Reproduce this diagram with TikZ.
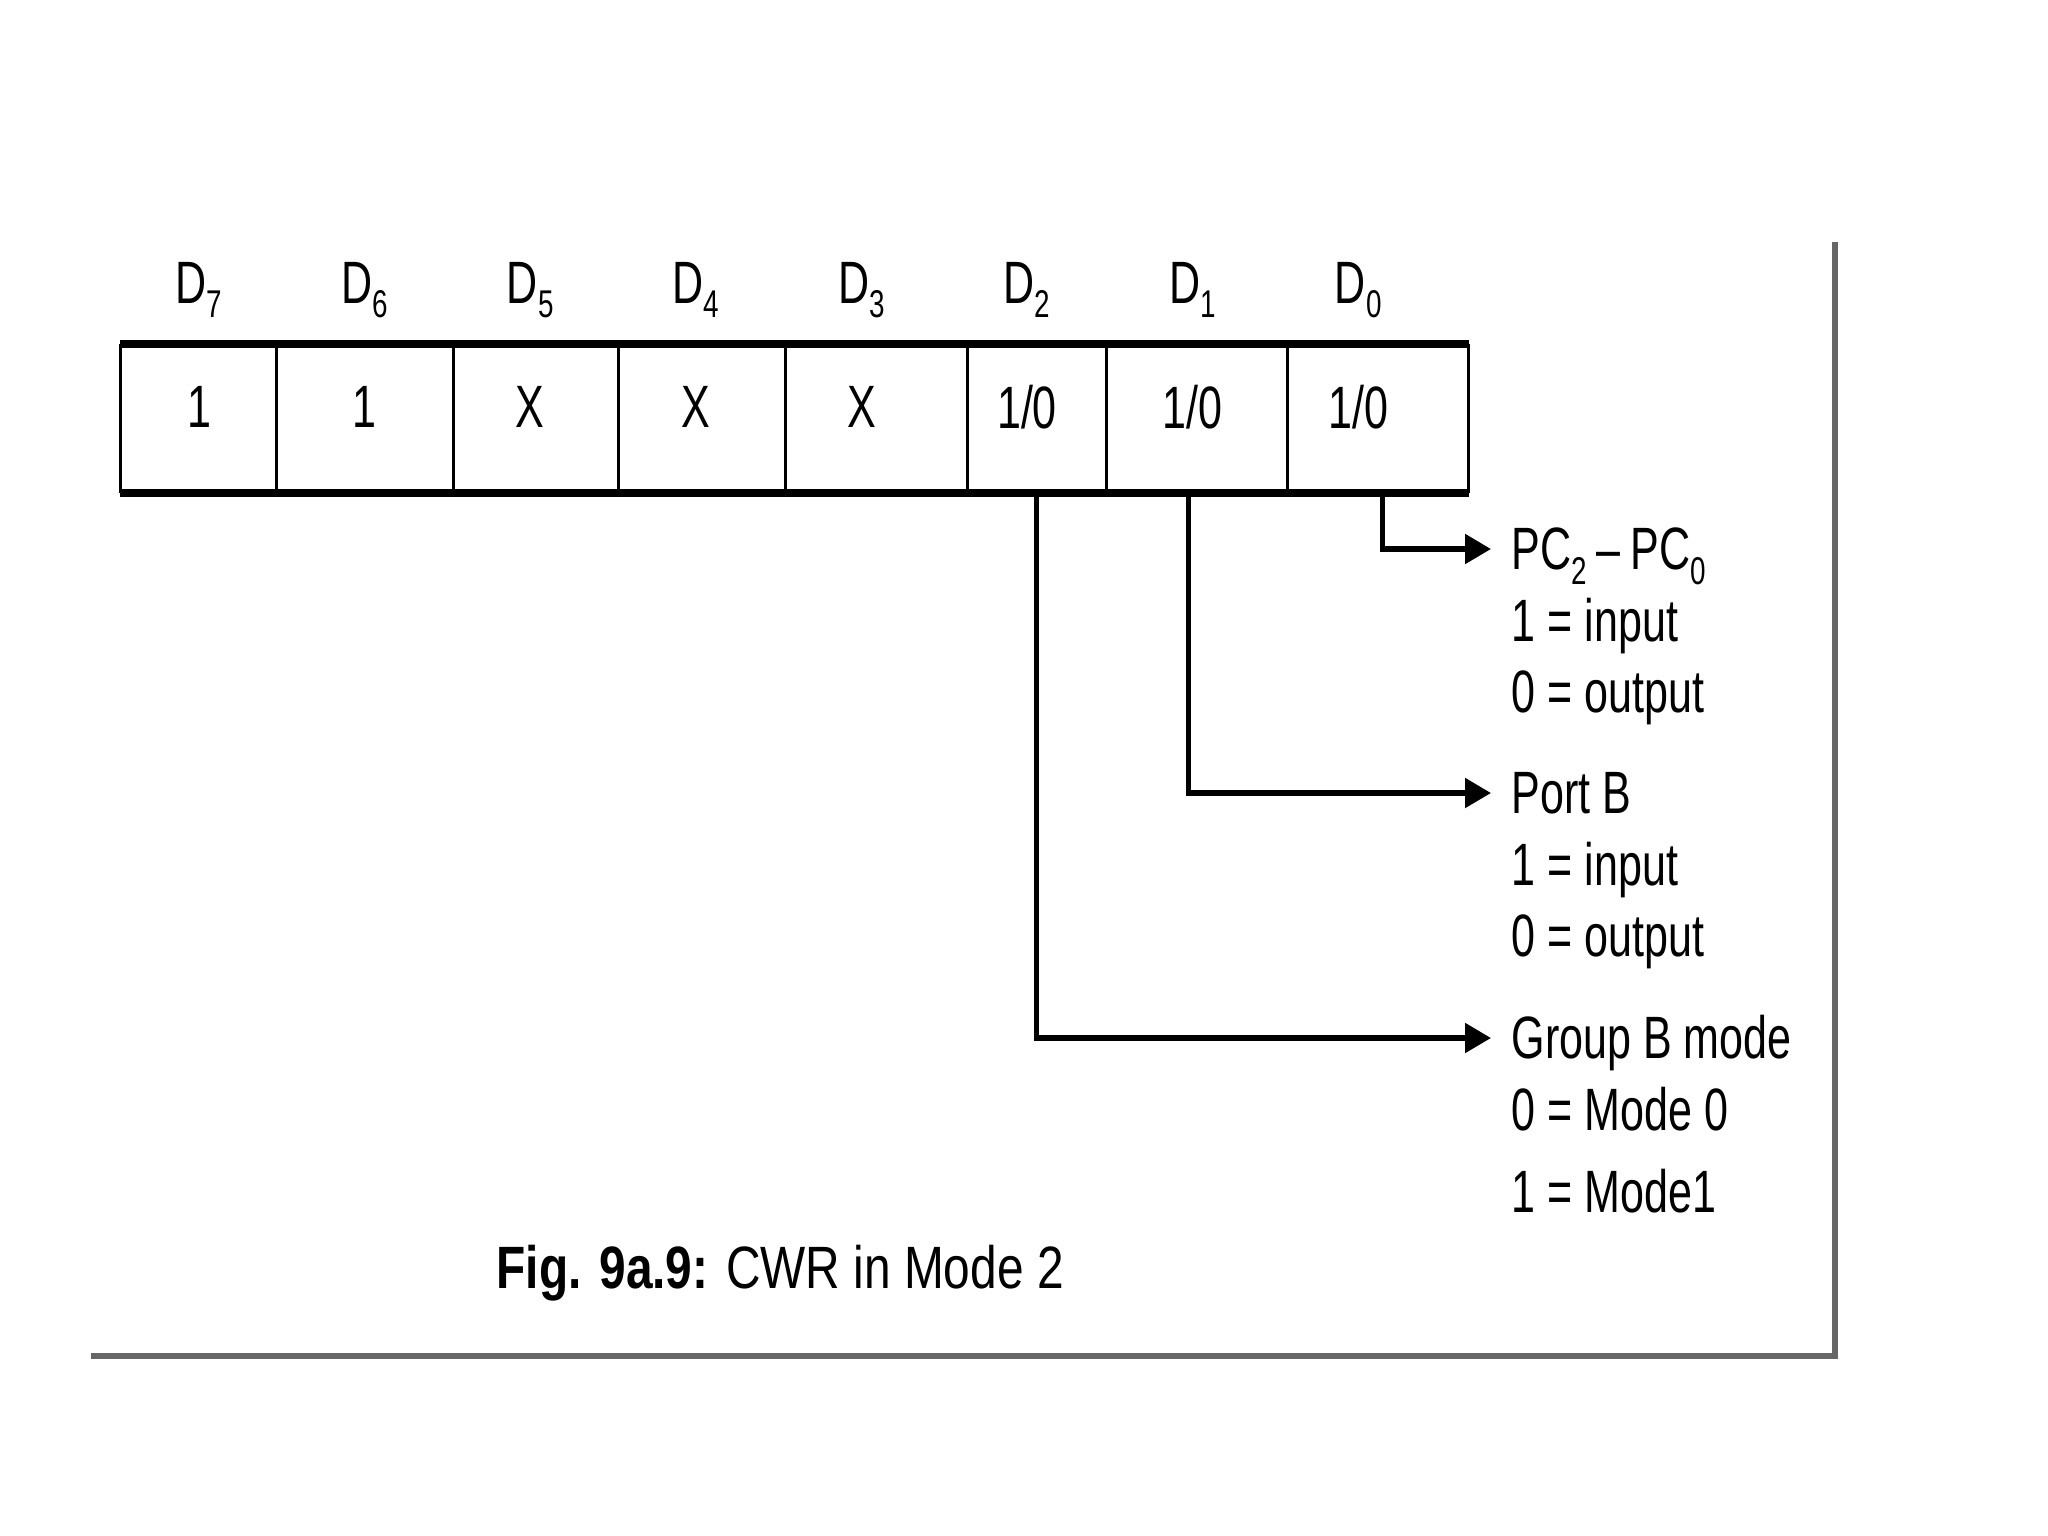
\documentclass[tikz,border=0pt]{standalone}
\usepackage{fontspec}
\setmainfont{Liberation Sans}[FakeStretch=0.72]
\newfontfamily\capfont{Liberation Sans}[FakeStretch=0.8]
\usetikzlibrary{arrows.meta,positioning}
\newcommand{\lowidx}[1]{\raisebox{-0.45ex}{\fontsize{11}{11}\selectfont #1}}
\tikzset{
  regline/.style={black, line width=2.4pt},
  divline/.style={black, line width=1pt},
  cellbox/.style={minimum height=14.7mm, inner sep=0pt},
  bitlab/.style={font=\fontsize{17}{20}\selectfont, inner sep=0pt},
  bitval/.style={font=\fontsize{17}{20}\selectfont, inner sep=0pt},
  feed/.style={-{Triangle[length=2.6mm,width=2.9mm]}, line width=1.5pt},
  target/.style={font=\fontsize{17}{20}\selectfont, anchor=west,
                 inner xsep=2mm, inner ysep=0pt,
                 text height=15.9pt, text depth=4pt},
  frame/.style={black!60, line width=1.8pt},
}

\begin{document}
\begin{tikzpicture}[x=0.01cm,y=-0.01cm]
  \path[use as bounding box] (0,0) rectangle (2048,1536);

  % register cells D7 ... D0
  \foreach \l/\r/\n in {121/276/7,276/453/6,453/618/5,618/785/4,785/967/3,967/1106/2,1106/1287/1,1287/1468/0}
    \node[cellbox, minimum width={(\r-\l)*0.01cm}] (c\n) at ({(\l+\r)/2},418.5) {};
  \draw[regline] (c7.north west) -- (c0.north east);
  \draw[regline] (c7.south west) -- (c0.south east);
  \draw[divline] (c7.north west) -- (c7.south west);
  \foreach \n in {7,...,0}
    \draw[divline] (c\n.north east) -- (c\n.south east);

  % bit names and contents
  \foreach \b/\v in {7/1,6/1,5/X,4/X,3/X,2/{1/0},1/{1/0},0/{1/0}} {
    \node[bitlab] (d\b) at ({199+(7-\b)*165.6},290) {D\lowidx{\b}};
    \node[bitval] (v\b) at ({199+(7-\b)*165.6},407) {\v};
  }

  % meaning of the low bits
  \node[target] (pc) at (1491,549) {PC\lowidx{2}\,–\,PC\lowidx{0}};
  \node[target, below=0pt of pc.south west, anchor=north west] (pcin) {1 = input};
  \node[target, below=0pt of pcin.south west, anchor=north west] (pcout) {0 = output};

  \node[target] (pb) at (1491,793) {Port B};
  \node[target, below=0pt of pb.south west, anchor=north west] (pbin) {1 = input};
  \node[target, below=0pt of pbin.south west, anchor=north west] (pbout) {0 = output};

  \node[target] (grp) at (1491,1038) {Group B mode};
  \node[target, below=0pt of grp.south west, anchor=north west] (grpzero) {0 = Mode 0};
  \node[target, below=3pt of grpzero.south west, anchor=north west] (grpone) {1 = Mode1};

  \draw[feed] ([xshift=0.05cm]c0.south) -- ([xshift=0.05cm]c0.south |- pc.west) -- (pc.west);
  \draw[feed] ([xshift=-0.08cm]c1.south) -- ([xshift=-0.08cm]c1.south |- pb.west) -- (pb.west);
  \draw[feed] (c2.south) -- (c2.south |- grp.west) -- (grp.west);

  \node[anchor=west, inner sep=0pt, font=\capfont\fontsize{17}{20}\selectfont] (cap) at (496,1273)
    {\textbf{Fig. 9a.9:} CWR in Mode 2};

  \draw[frame] (91,1356) -- (1835,1356) -- (1835,242);
\end{tikzpicture}
\end{document}
